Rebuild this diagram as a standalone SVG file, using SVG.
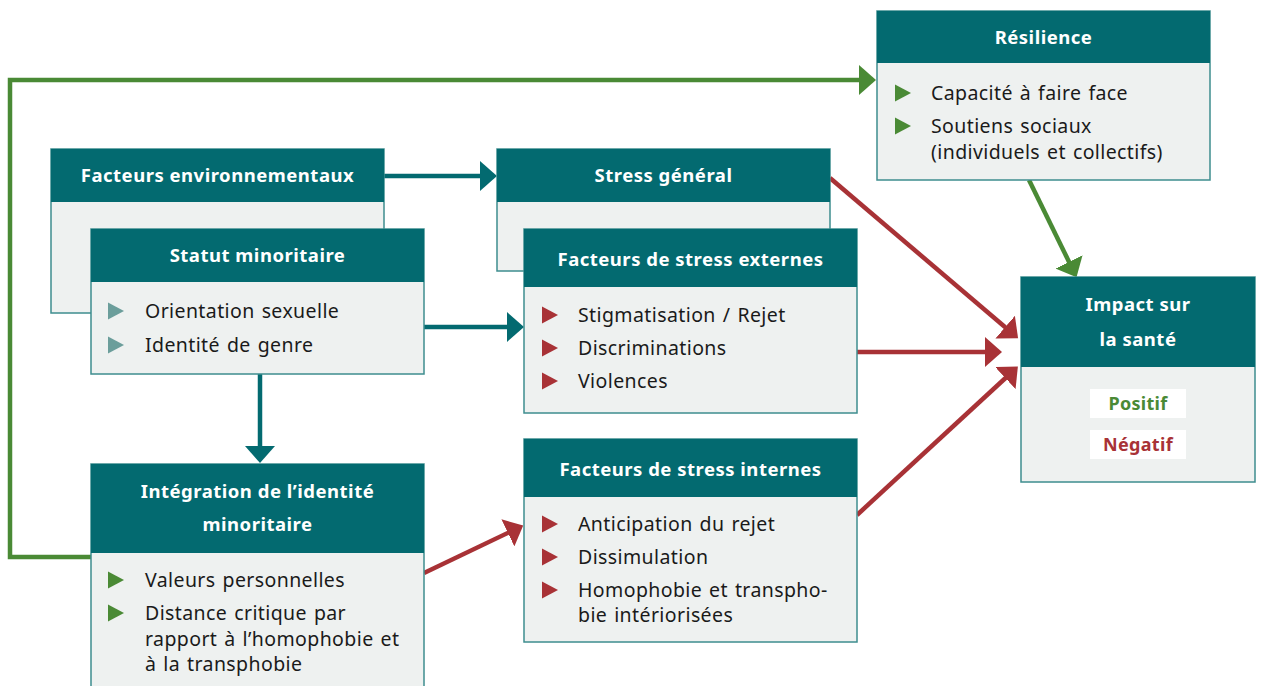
<svg xmlns="http://www.w3.org/2000/svg" xmlns:xlink="http://www.w3.org/1999/xlink" width="1263" height="686" viewBox="0 0 1263 686">
<style>
.hd{fill:#036a70}
.bd{fill:#eef1f0;stroke:#3e8d8f;stroke-width:1.5}
.ttl{font-family:"Noto Sans","Liberation Sans",sans-serif;font-weight:700;font-size:18.5px;letter-spacing:0.5px;fill:#fff;text-anchor:middle}
.txt{font-family:"Noto Sans","Liberation Sans",sans-serif;font-size:19.5px;letter-spacing:0.4px;word-spacing:1.5px;fill:#1a1a1a}
.bt{fill:#6b9e9b}
.br{fill:#a83236}
.bg{fill:#4a8a35}
.lt{fill:none;stroke:#036a70;stroke-width:4.5}
.lr{fill:none;stroke:#a83236;stroke-width:4.5}
.lg{fill:none;stroke:#4a8a35;stroke-width:4.5}
.tag{fill:#fff}
.pos{font-family:"Noto Sans","Liberation Sans",sans-serif;font-weight:700;font-size:18px;letter-spacing:0.3px;fill:#4a8a35;text-anchor:middle}
.neg{font-family:"Noto Sans","Liberation Sans",sans-serif;font-weight:700;font-size:18px;letter-spacing:0.3px;fill:#a83236;text-anchor:middle}
</style>
<defs>
<path id="tri" d="M0,-8.5 L16,0 L0,8.5z"/>
<marker id="mt" markerUnits="userSpaceOnUse" markerWidth="18" markerHeight="30" refX="9" refY="15" orient="auto"><path d="M0,0 L17,15 L0,30z" fill="#036a70"/></marker>
<marker id="mr" markerUnits="userSpaceOnUse" markerWidth="18" markerHeight="30" refX="9" refY="15" orient="auto"><path d="M0,0 L17,15 L0,30z" fill="#a83236"/></marker>
<marker id="mg" markerUnits="userSpaceOnUse" markerWidth="18" markerHeight="30" refX="9" refY="15" orient="auto"><path d="M0,0 L17,15 L0,30z" fill="#4a8a35"/></marker>
</defs>
<rect width="1263" height="686" fill="#fff"/>

<g id="connectors">
<path class="lg" d="M91,557 H10 V80 H868" marker-end="url(#mg)"/>
<path class="lg" d="M1029,180 L1073,270" marker-end="url(#mg)"/>
<path class="lt" d="M384,176 H489" marker-end="url(#mt)"/>
<path class="lt" d="M424,327 H516" marker-end="url(#mt)"/>
<path class="lt" d="M260,374 V455" marker-end="url(#mt)"/>
<path class="lr" d="M424,573 L516,529" marker-end="url(#mr)"/>
<path class="lr" d="M830,178 L1012,333" marker-end="url(#mr)"/>
<path class="lr" d="M857,352 H994" marker-end="url(#mr)"/>
<path class="lr" d="M857,515 L1012,372" marker-end="url(#mr)"/>
</g>

<g id="env">
<rect class="bd" x="51" y="149" width="333" height="164"/>
<rect class="hd" x="51" y="149" width="333" height="53"/>
<text class="ttl" x="217.5" y="182">Facteurs environnementaux</text>
</g>

<g id="statut">
<rect class="bd" x="91" y="229" width="333" height="145"/>
<rect class="hd" x="91" y="229" width="333" height="53"/>
<text class="ttl" x="257.5" y="262">Statut minoritaire</text>
<use xlink:href="#tri" x="108" y="311" class="bt"/>
<text class="txt" x="145" y="318">Orientation sexuelle</text>
<use xlink:href="#tri" x="108" y="345" class="bt"/>
<text class="txt" x="145" y="352">Identité de genre</text>
</g>

<g id="stress-general">
<rect class="bd" x="497" y="149" width="333" height="122"/>
<rect class="hd" x="497" y="149" width="333" height="53"/>
<text class="ttl" x="663.5" y="182">Stress général</text>
</g>

<g id="externes">
<rect class="bd" x="524" y="229" width="333" height="184"/>
<rect class="hd" x="524" y="229" width="333" height="58"/>
<text class="ttl" x="690.5" y="266">Facteurs de stress externes</text>
<use xlink:href="#tri" x="542" y="315" class="br"/>
<text class="txt" x="578" y="322">Stigmatisation / Rejet</text>
<use xlink:href="#tri" x="542" y="348" class="br"/>
<text class="txt" x="578" y="355">Discriminations</text>
<use xlink:href="#tri" x="542" y="381" class="br"/>
<text class="txt" x="578" y="388">Violences</text>
</g>

<g id="internes">
<rect class="bd" x="524" y="439" width="333" height="203"/>
<rect class="hd" x="524" y="439" width="333" height="58"/>
<text class="ttl" x="690.5" y="476">Facteurs de stress internes</text>
<use xlink:href="#tri" x="542" y="524" class="br"/>
<text class="txt" x="578" y="531">Anticipation du rejet</text>
<use xlink:href="#tri" x="542" y="557" class="br"/>
<text class="txt" x="578" y="564">Dissimulation</text>
<use xlink:href="#tri" x="542" y="590" class="br"/>
<text class="txt" x="578" y="597">Homophobie et transpho-</text>
<text class="txt" x="578" y="622">bie intériorisées</text>
</g>

<g id="integration">
<rect class="bd" x="91" y="464" width="333" height="240"/>
<rect class="hd" x="91" y="464" width="333" height="89"/>
<text class="ttl" x="257.5" y="498">Intégration de l’identité</text>
<text class="ttl" x="257.5" y="531">minoritaire</text>
<use xlink:href="#tri" x="108" y="580" class="bg"/>
<text class="txt" x="145" y="587">Valeurs personnelles</text>
<use xlink:href="#tri" x="108" y="613" class="bg"/>
<text class="txt" x="145" y="620">Distance critique par</text>
<text class="txt" x="145" y="646">rapport à l’homophobie et</text>
<text class="txt" x="145" y="671">à la transphobie</text>
</g>

<g id="resilience">
<rect class="bd" x="877" y="11" width="333" height="169"/>
<rect class="hd" x="877" y="11" width="333" height="52"/>
<text class="ttl" x="1043.5" y="44">Résilience</text>
<use xlink:href="#tri" x="895" y="93" class="bg"/>
<text class="txt" x="931" y="100">Capacité à faire face</text>
<use xlink:href="#tri" x="895" y="126" class="bg"/>
<text class="txt" x="931" y="133">Soutiens sociaux</text>
<text class="txt" x="931" y="159">(individuels et collectifs)</text>
</g>

<g id="impact">
<rect class="bd" x="1021" y="277" width="234" height="205"/>
<rect class="hd" x="1021" y="277" width="234" height="90"/>
<text class="ttl" x="1138" y="311">Impact sur</text>
<text class="ttl" x="1138" y="346">la santé</text>
<rect class="tag" x="1090" y="389" width="96" height="29"/>
<text class="pos" x="1138" y="410">Positif</text>
<rect class="tag" x="1090" y="430" width="96" height="29"/>
<text class="neg" x="1138" y="451">Négatif</text>
</g>
</svg>
